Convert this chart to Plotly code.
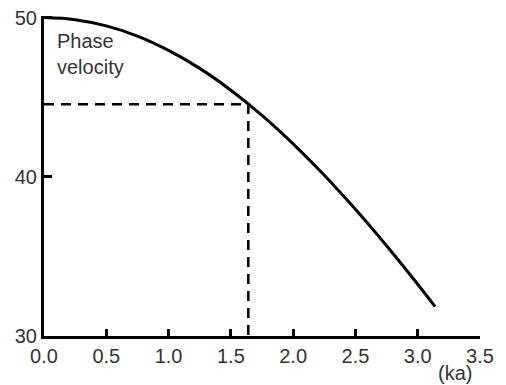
import plotly.graph_objects as go

# Data
ka = [0.0, 0.25, 0.5, 0.75, 1.0, 1.25, 1.5, 1.75, 2.0, 2.25, 2.5, 2.75, 3.0, 3.14]
phase_velocity = [50.0, 49.87, 49.48, 48.84, 47.94, 46.81, 45.44, 43.86, 42.07, 40.10, 37.96, 35.67, 33.25, 31.84]
marker_ka = 1.64
marker_v = 44.55
x_ticks = [0.0, 0.5, 1.0, 1.5, 2.0, 2.5, 3.0, 3.5]
x_tick_labels = ["0.0", "0.5", "1.0", "1.5", "2.0", "2.5", "3.0", "3.5"]
y_ticks = [30, 40, 50]
y_tick_labels = ["30", "40", "50"]

FONT = "Liberation Sans, Arial, sans-serif"
TXT = "#333333"
FS = 20

fig = go.Figure()
fig.add_trace(go.Scatter(
    x=ka, y=phase_velocity, mode="lines",
    line=dict(color="black", width=3, shape="spline"),
    showlegend=False, hoverinfo="skip"))
# dashed guide lines
fig.add_trace(go.Scatter(
    x=[0, marker_ka, marker_ka], y=[marker_v, marker_v, 30], mode="lines",
    line=dict(color="black", width=2.5, dash="10px,7px"),
    showlegend=False, hoverinfo="skip"))

fig.update_layout(
    width=506, height=385,
    margin=dict(l=36, r=34, t=8, b=57, autoexpand=False),
    paper_bgcolor="white", plot_bgcolor="white",
    font=dict(family=FONT, size=FS, color=TXT),
    xaxis=dict(range=[0, 3.5], tickvals=x_ticks, ticktext=x_tick_labels, automargin=False,
               ticklabeloverflow="allow",
               showgrid=False, zeroline=False, showline=True, linecolor="black",
               linewidth=3, ticks="inside", ticklen=7, tickwidth=3, tickcolor="black",
               tickfont=dict(family=FONT, size=FS, color=TXT)),
    yaxis=dict(range=[30, 50.1], tickvals=y_ticks, ticktext=y_tick_labels, automargin=False,
               ticklabeloverflow="allow",
               showgrid=False, zeroline=False, showline=True, linecolor="black",
               linewidth=3, ticks="inside", ticklen=8, tickwidth=3, tickcolor="black",
               tickfont=dict(family=FONT, size=FS, color=TXT)),
    annotations=[
        dict(text="Phase<br>velocity", xref="paper", yref="paper", x=0.025, y=0.962,
             xanchor="left", yanchor="top", showarrow=False, align="left",
             font=dict(family=FONT, size=FS, color=TXT)),
        dict(text="(ka)", xref="paper", yref="paper", x=0.943, y=-0.117,
             xanchor="center", yanchor="middle", showarrow=False,
             font=dict(family=FONT, size=FS, color=TXT)),
    ],
)

fig.write_html("out.html")
